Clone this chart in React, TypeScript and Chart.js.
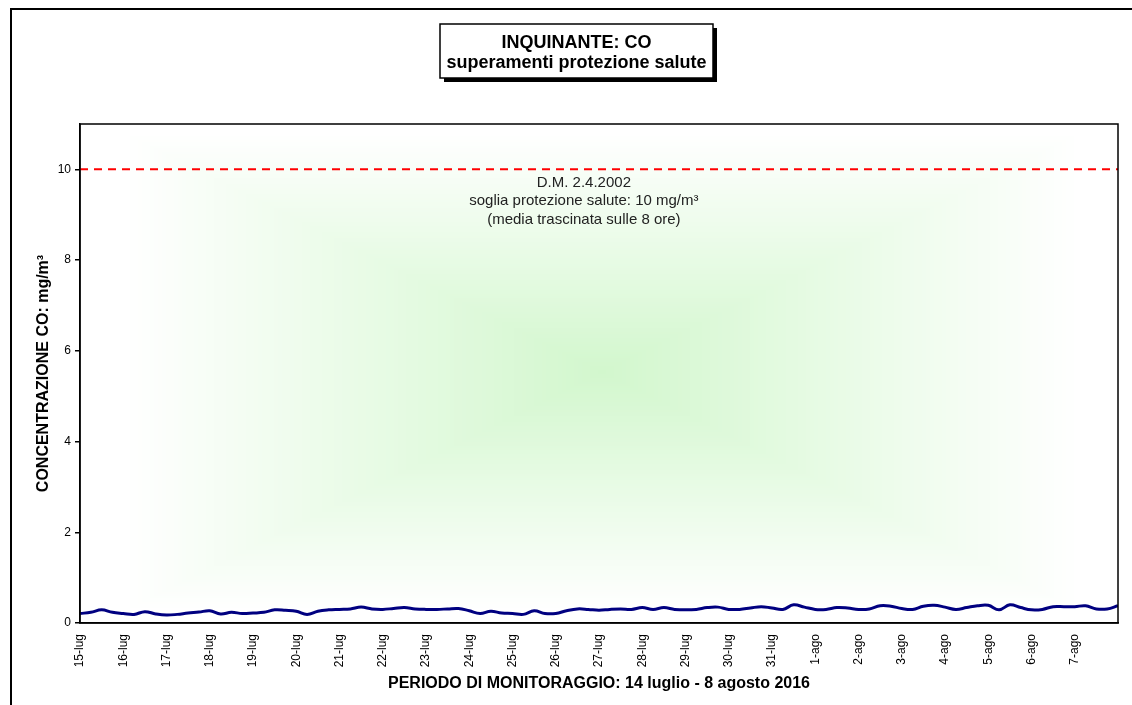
import React, { useEffect, useRef } from "react";
import { Chart, registerables } from "chart.js";

Chart.register(...registerables);

const FONT = "'Liberation Sans', Arial, Helvetica, sans-serif";

// Day labels at each midnight (tick every day)
const dayLabels = [
  "15-lug", "16-lug", "17-lug", "18-lug", "19-lug", "20-lug", "21-lug", "22-lug",
  "23-lug", "24-lug", "25-lug", "26-lug", "27-lug", "28-lug", "29-lug", "30-lug",
  "31-lug", "1-ago", "2-ago", "3-ago", "4-ago", "5-ago", "6-ago", "7-ago",
];

// CO 8-hour running mean (mg/m³), one value every 6 hours from 15-lug 00:00 to 8-ago 00:00
const coValues = [
  0.21, 0.235, 0.29, 0.235, 0.21, 0.19, 0.25, 0.2, 0.175, 0.19, 0.22, 0.24, 0.27, 0.2, 0.235, 0.21,
  0.22, 0.235, 0.29, 0.28, 0.26, 0.19, 0.26, 0.29, 0.3,
  0.31, 0.35, 0.31, 0.3, 0.32, 0.34, 0.31, 0.3, 0.3, 0.31, 0.32, 0.27, 0.21, 0.26, 0.22, 0.21,
  0.19, 0.27, 0.21, 0.21, 0.27, 0.31, 0.3, 0.28,
  0.3, 0.31, 0.3, 0.34, 0.3, 0.34, 0.3, 0.29, 0.3, 0.34, 0.35, 0.3, 0.3, 0.33, 0.36, 0.33,
  0.3, 0.4, 0.35, 0.3, 0.3, 0.34, 0.33, 0.3,
  0.31, 0.38, 0.37, 0.32, 0.3, 0.37, 0.39, 0.35, 0.3, 0.34, 0.38, 0.39, 0.29, 0.4, 0.34, 0.29,
  0.3, 0.36, 0.36, 0.36, 0.38, 0.31, 0.31, 0.38,
];

const samplesPerDay = 4;
const totalDays = 24;
const thresholdValue = 10;
const yMax = 11;
const yStep = 2;

const titleLines = ["INQUINANTE: CO", "superamenti protezione salute"];
const annotationLines = [
  "D.M. 2.4.2002",
  "soglia protezione salute: 10 mg/m³",
  "(media trascinata sulle 8 ore)",
];
const xTitle = "PERIODO DI MONITORAGGIO: 14 luglio - 8 agosto 2016";
const yTitle = "CONCENTRAZIONE CO: mg/m³";

const W = 1132;
const H = 705;

const decorPlugin = {
  id: "decor",
  beforeDraw(chart: any) {
    const ctx = chart.ctx as CanvasRenderingContext2D;
    const a = chart.chartArea;
    ctx.save();
    ctx.fillStyle = "#ffffff";
    ctx.fillRect(0, 0, W, H);

    // outer frame
    ctx.strokeStyle = "#000";
    ctx.lineWidth = 2;
    ctx.beginPath();
    ctx.moveTo(11, H + 5);
    ctx.lineTo(11, 9);
    ctx.lineTo(W + 5, 9);
    ctx.stroke();

    // rectangular gradient background inside plot area
    ctx.save();
    ctx.beginPath();
    ctx.rect(a.left, a.top, a.right - a.left, a.bottom - a.top);
    ctx.clip();
    const cx = 602, cy = 372, hx = 480, hy = 240;
    const N = 120;
    const c0 = [255, 255, 255];
    const c1 = [210, 247, 205];
    for (let i = 0; i <= N; i++) {
      const t = i / N;
      const r = Math.round(c0[0] + (c1[0] - c0[0]) * t);
      const g = Math.round(c0[1] + (c1[1] - c0[1]) * t);
      const b = Math.round(c0[2] + (c1[2] - c0[2]) * t);
      ctx.fillStyle = `rgb(${r},${g},${b})`;
      const sx = hx * (1 - t), sy = hy * (1 - t);
      ctx.fillRect(cx - sx, cy - sy, sx * 2, sy * 2);
    }
    ctx.restore();

    // title box with shadow
    const bx = 440, by = 24, bw = 273, bh = 54;
    ctx.fillStyle = "#000";
    ctx.fillRect(bx + 4, by + 4, bw, bh);
    ctx.fillStyle = "#fff";
    ctx.fillRect(bx, by, bw, bh);
    ctx.lineWidth = 1.5;
    ctx.strokeStyle = "#000";
    ctx.strokeRect(bx, by, bw, bh);
    ctx.fillStyle = "#000";
    ctx.font = `bold 18px ${FONT}`;
    ctx.textAlign = "center";
    ctx.textBaseline = "alphabetic";
    ctx.fillText(titleLines[0], bx + bw / 2, 48);
    ctx.fillText(titleLines[1], bx + bw / 2, 68);
    ctx.restore();
  },
  afterDatasetsDraw(chart: any) {
    const ctx = chart.ctx as CanvasRenderingContext2D;
    const a = chart.chartArea;
    const xs = chart.scales.x;
    const ys = chart.scales.y;
    ctx.save();
    ctx.fillStyle = "#222";
    ctx.font = `15px ${FONT}`;
    ctx.textAlign = "center";
    ctx.textBaseline = "middle";
    const tx = xs.getPixelForValue(11.65);
    const ty = ys.getPixelForValue(thresholdValue);
    annotationLines.forEach((s, i) => ctx.fillText(s, tx, ty + 13 + i * 18.5));
    ctx.strokeStyle = "#000";
    ctx.lineWidth = 1.5;
    ctx.strokeRect(a.left, a.top, a.right - a.left, a.bottom - a.top);
    ctx.restore();
  },
};

export default function App() {
  const ref = useRef<HTMLCanvasElement | null>(null);
  useEffect(() => {
    if (!ref.current) return;
    const chart = new Chart(ref.current, {
      type: "line",
      data: {
        datasets: [
          {
            data: coValues.map((v, i) => ({ x: i / samplesPerDay, y: v })),
            borderColor: "#000080",
            borderWidth: 3,
            pointRadius: 0,
            tension: 0.4,
            fill: false,
          },
          {
            data: [
              { x: 0, y: thresholdValue },
              { x: totalDays, y: thresholdValue },
            ],
            borderColor: "#ff0000",
            borderWidth: 2,
            borderDash: [8, 6],
            pointRadius: 0,
            fill: false,
          },
        ],
      },
      options: {
        responsive: false,
        animation: false,
        layout: { padding: { top: 124, right: 14, bottom: 8, left: 30 } },
        plugins: { legend: { display: false }, tooltip: { enabled: false }, title: { display: false } },
        scales: {
          x: {
            type: "linear",
            min: 0,
            max: totalDays,
            afterBuildTicks: (s: any) => {
              s.ticks = s.ticks.filter((t: any) => t.value < dayLabels.length);
            },
            ticks: {
              stepSize: 1,
              autoSkip: false,
              maxRotation: 90,
              minRotation: 90,
              padding: 3,
              color: "#000",
              font: { family: FONT, size: 12 },
              callback: (v: any) => dayLabels[v as number] ?? "",
            },
            grid: { display: false },
            border: { display: true, color: "#000", width: 1.5 },
            title: {
              display: true,
              text: xTitle,
              color: "#000",
              font: { family: FONT, size: 16, weight: "bold" },
              padding: { top: 4, bottom: 4 },
            },
            afterFit: (s: any) => {
              s.height = 74;
            },
          },
          y: {
            min: 0,
            max: yMax,
            ticks: {
              stepSize: yStep,
              includeBounds: false,
              padding: 4,
              color: "#000",
              font: { family: FONT, size: 12 },
            },
            grid: { drawOnChartArea: false, drawTicks: true, tickLength: 5, color: "#000", lineWidth: 1.5 },
            border: { display: true, color: "#000", width: 1.5 },
            title: {
              display: true,
              text: yTitle,
              color: "#000",
              font: { family: FONT, size: 16, weight: "bold" },
              padding: { top: 4, bottom: 4 },
            },
            afterFit: (s: any) => {
              s.width = 50;
            },
          },
        },
      } as any,
      plugins: [decorPlugin],
    });
    return () => chart.destroy();
  }, []);
  return (
    <div style={{ position: "fixed", left: 0, top: 0, width: W, height: H, background: "#fff" }}>
      <canvas ref={ref} width={W} height={H} style={{ display: "block", width: W, height: H }} />
    </div>
  );
}
